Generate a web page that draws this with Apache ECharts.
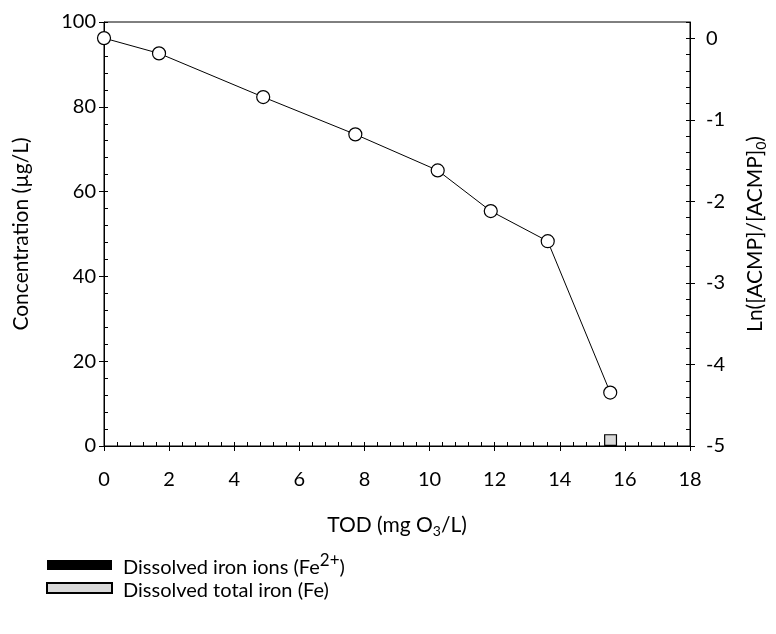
<!DOCTYPE html>
<html>
<head>
<meta charset="utf-8">
<script src="https://cdn.jsdelivr.net/npm/echarts@6/dist/echarts.min.js"></script>
<style>
  html, body { margin: 0; padding: 0; background: #fff; }
  #chart { width: 776px; height: 634px; }
</style>
</head>
<body>
<div id="chart"></div>
<script>
// Ozone dose (TOD, mg O3/L) and remaining ACMP concentration (µg/L)
const tod = [0, 1.69, 4.89, 7.72, 10.25, 11.88, 13.63, 15.55];
const concentration = [96.2, 92.6, 82.3, 73.5, 65.0, 55.4, 48.3, 12.6];

// Dissolved iron measured at the final dose (µg/L)
const ironDose = [15.56];
const ironIons = [0];      // Fe2+
const ironTotal = [2.8];   // total Fe

// Axis tick values
const xTicks = [0, 2, 4, 6, 8, 10, 12, 14, 16, 18];
const rightTicks = [-5, -4, -3, -2, -1, 0];

const FONT = 'Lato';
const tickTxt = { fontFamily: FONT, fontSize: 20, color: '#000' };
const titleTxt = { fontFamily: FONT, fontSize: 21, color: '#000' };
const black = { color: '#000', width: 1 };

const linePairs = tod.map((x, i) => [x, concentration[i]]);
const ionPairs = ironDose.map((x, i) => [x, ironIons[i]]);
const totalPairs = ironDose.map((x, i) => [x, ironTotal[i]]);

const titleRich = {
  n: { ...titleTxt, lineHeight: 26 },
  sub: { fontFamily: FONT, fontSize: 14, color: '#000', lineHeight: 14, verticalAlign: 'bottom' }
};

const chart = echarts.init(document.getElementById('chart'), null, { renderer: 'canvas' });

chart.setOption({
  backgroundColor: '#fff',
  animation: false,
  textStyle: { fontFamily: FONT },
  grid: {
    left: 104, right: 83, top: 22, bottom: 188,
    show: true, borderColor: '#000', borderWidth: 1, backgroundColor: 'transparent'
  },
  legend: {
    data: ['Dissolved iron ions', 'Dissolved total iron'],
    orient: 'vertical',
    left: 41, top: 547,
    icon: 'rect',
    itemWidth: 65, itemHeight: 10, itemGap: 0,
    selectedMode: false,
    textStyle: {
      fontFamily: FONT, fontSize: 20, color: '#000',
      rich: {
        g: { width: 6 },
        n: { fontFamily: FONT, fontSize: 20, color: '#000', lineHeight: 26, verticalAlign: 'bottom' },
        sup: { fontFamily: FONT, fontSize: 17, color: '#000', lineHeight: 17, verticalAlign: 'top' }
      }
    },
    formatter: function (name) {
      if (name === 'Dissolved iron ions') return '{g|}{n|Dissolved iron ions (Fe}{sup|2+}{n|)}';
      return '{g|}{n|Dissolved total iron (Fe)}';
    }
  },
  xAxis: [
    {
      type: 'value', position: 'bottom', min: 0, max: 18, interval: 2,
      axisLine: { show: true, onZero: false, lineStyle: black },
      axisTick: { show: true, inside: false, length: 5, lineStyle: black, customValues: xTicks },
      axisLabel: { ...tickTxt, margin: 24, customValues: xTicks },
      splitLine: { show: false },
      name: '{n|TOD (mg O}{sub|3}{n|/L)}',
      nameLocation: 'middle', nameGap: 66,
      nameTextStyle: { ...titleTxt, rich: titleRich }
    },
    {
      // inner tick marks every 0.4
      type: 'value', position: 'bottom', min: 0, max: 18, interval: 0.4,
      axisLine: { show: false, onZero: false },
      axisTick: { show: true, inside: true, length: 4, lineStyle: black },
      axisLabel: { show: false },
      splitLine: { show: false }
    }
  ],
  yAxis: [
    {
      type: 'value', position: 'left', min: 0, max: 100, interval: 20,
      axisLine: { show: true, onZero: false, lineStyle: black },
      axisTick: { show: true, inside: false, length: 5, lineStyle: black },
      axisLabel: { ...tickTxt, margin: 8 },
      splitLine: { show: false },
      name: 'Concentration (µg/L)',
      nameLocation: 'middle', nameGap: 72, nameRotate: 90,
      nameTextStyle: { ...titleTxt }
    },
    {
      // inner tick marks every 4 µg/L
      type: 'value', position: 'left', min: 0, max: 100, interval: 4,
      axisLine: { show: false, onZero: false },
      axisTick: { show: true, inside: true, length: 4, lineStyle: black },
      axisLabel: { show: false },
      splitLine: { show: false }
    },
    {
      type: 'value', position: 'right', min: -5, max: 0.2, interval: 1,
      axisLine: { show: true, onZero: false, lineStyle: black },
      axisTick: { show: true, inside: false, length: 5, lineStyle: black, customValues: rightTicks },
      axisLabel: { ...tickTxt, margin: 16, customValues: rightTicks },
      splitLine: { show: false },
      name: '{n|Ln([ACMP]/[ACMP]}{sub|0}{n|)}',
      nameLocation: 'middle', nameGap: 52, nameRotate: 90,
      nameTextStyle: { ...titleTxt, rich: titleRich }
    },
    {
      // inner tick marks every 0.2
      type: 'value', position: 'right', min: -5, max: 0.2, interval: 0.2,
      axisLine: { show: false, onZero: false },
      axisTick: { show: true, inside: true, length: 4, lineStyle: black },
      axisLabel: { show: false },
      splitLine: { show: false }
    }
  ],
  series: [
    {
      name: 'Dissolved iron ions',
      type: 'bar', xAxisIndex: 0, yAxisIndex: 0,
      data: ionPairs, barWidth: 13, barGap: '-100%',
      itemStyle: { color: '#000' }
    },
    {
      name: 'Dissolved total iron',
      type: 'bar', xAxisIndex: 0, yAxisIndex: 0,
      data: totalPairs, barWidth: 13, barGap: '-100%',
      itemStyle: { color: '#d9d9d9', borderColor: '#000', borderWidth: 1.2 }
    },
    {
      name: 'ACMP',
      type: 'line', xAxisIndex: 0, yAxisIndex: 0,
      data: linePairs,
      symbol: 'circle', symbolSize: 13,
      lineStyle: { color: '#000', width: 1 },
      itemStyle: { color: '#fff', borderColor: '#000', borderWidth: 1.2 },
      z: 5
    }
  ]
});
</script>
</body>
</html>
